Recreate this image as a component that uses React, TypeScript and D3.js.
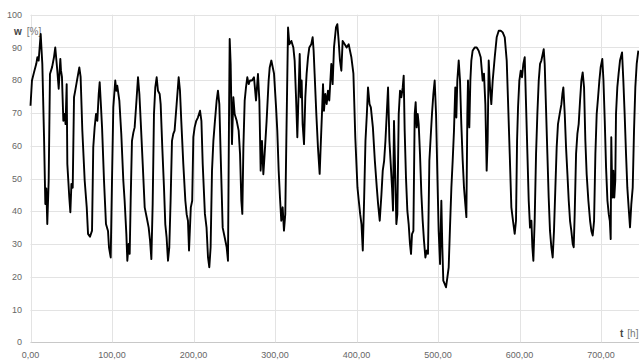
import * as d3 from "d3";

// time [h]
const hours = [
  0, 1.8, 4.3, 7.1, 8.4, 10, 12.5, 14.5, 16.6, 18.2, 19.4, 20.6, 22.3, 23.9, 26.5, 28.8, 30.4, 32.9, 34.6, 36.6,
  37.4, 38.6, 40.3, 41.9, 43, 44.4, 45.2, 46.4, 47.6, 48.9, 50.2, 51.8, 53.4, 55, 57.4, 59.9, 61.5, 63.6, 66.5, 69,
  70.6, 73, 75.5, 77, 78.7, 80.4, 82, 83.7, 84.9, 86.1, 87.8, 90.2, 92.6, 95.1, 96.3,
  98.4, 100, 101.6, 104, 105.3, 106.5, 109, 111.4, 113.9, 115.5, 117.6, 118.8, 120.4, 121.7, 122.9, 124.5, 126.2,
  127.8, 130.3, 131.9, 133.6, 135.2, 137.7, 140.1, 142.6, 145, 146.7, 148.3, 149.9, 151.5, 153.1, 154.8, 156.4,
  158.5, 159.7, 161.7, 163.8, 165.4, 167, 168.7, 170.3, 171.9, 173.6, 175.2, 176.8, 179.3, 181.8, 183.4, 185,
  187.5, 190, 191.6, 193.2,
  194.5, 196.7, 198.4, 199.8, 201.4, 203.4, 205.4, 208, 209.7, 211.3, 214, 216, 217.8, 219.4, 221, 222.7, 224.4,
  226, 228.4, 230, 231.7, 233.3, 235.8, 238.3, 240.7, 242.3, 243.6, 244.4, 245.6, 247.2, 248.9, 250.5, 253, 255.4,
  257.1, 258.7, 259.9, 261.2, 262.8, 264.4, 266, 267.7, 269.3, 271.8, 274.2, 276.7, 279.1, 280.8, 282.4, 284,
  285.7, 287.3, 289.7, 292.2, 293.5,
  295.5, 298.8, 301.3, 302.8, 304.5, 306.1, 307.7, 309.4, 311, 312.6, 313.9, 316, 317.6, 320.1, 322.5, 324.1,
  325.8, 327.4, 329, 330.3, 331.5, 332.7, 333.9, 335.6, 337.2, 338.8, 340.5, 342.1, 344.5, 346.2, 347.4, 348.6,
  350.7, 352.7, 354.8, 356, 357.6, 358.9, 360.1, 361.7, 363.4, 365, 366.6, 369.1, 370.7, 372.4, 374.8, 376.5,
  378.1, 379.7, 381.4, 383, 385.5, 387.9, 390.4,
  392, 393.7, 396.2, 398.5, 401.2, 402.8, 404.5, 406.1, 407.7, 409.4, 411, 412.7, 414.1, 416, 417.6, 420.1, 422.5,
  424.9, 426.5, 428.5, 430.6, 432.2, 433.9, 435.5, 437.1, 438.7, 440.4, 442, 443.6, 444.8, 446, 447.7, 448.9,
  450.1, 451.8, 453.4, 455, 456.7, 457.9, 459.1, 460.7, 462.4, 464, 465.6, 466.9, 468.1, 469.8, 471.4, 472.6,
  473.8, 475.1, 476.3, 477.9, 479.6, 481.2, 482.8, 484.5, 486.1, 487.7,
  489.4, 491, 492.6, 494.3, 495.9, 497.6, 499.2, 500.8, 502.5, 504.1, 505.3, 506.5, 508.2, 509.8, 511.5, 513.1,
  514.7, 516.4, 518, 519.6, 521.2, 522.5, 523.7, 525.4, 527, 528.6, 530.3, 531.9, 533.5, 534.8, 536, 536.8, 537.6,
  538.4, 539.7, 540.9, 542.5, 545, 547.5, 549.9, 552.4, 554.8, 556.4, 558.1, 559.7, 560.9, 562.2, 563.8, 565.4,
  567.1, 569.6, 572, 574.5, 577, 579.4, 581.9, 584.3, 585.9, 588,
  590, 592, 594.1, 595.7, 597, 598.2, 599.8, 601.5, 603.1, 604.7, 606.4, 608, 609.7, 611.3, 612.9, 614.6, 615.8,
  617, 618.6, 620.3, 621.9, 623.6, 625.2, 626.8, 628.5, 629.7, 630.9, 632.5, 634.2, 635.8, 637.4, 639.1, 640.7,
  642.3, 644, 645.6, 647.2, 649.3, 651.4, 652.6, 653.8, 655.5, 657.1, 658.8, 660.4, 662, 663.6, 665.3,
  666.5, 667.7, 669.4, 671, 672.6, 674.3, 675.9, 677.5, 679.2, 680.8, 682.4, 684.5, 686.6, 688.2, 689.8, 691.5,
  693.1, 694.7, 696.4, 698, 699.6, 701.6, 703, 704.6, 706.2, 707.9, 709.5, 710.8, 711.9, 712.6, 713.4, 714.3,
  715.1, 716.3, 717.5, 718.4, 720, 721.6, 723.3, 725.8, 727.4, 729, 730.7, 732.3, 733.9, 735.6, 737.2, 738.9,
  740.5, 742.1, 743.8, 745.8,
];

// relative humidity w [%]
const humidity = [
  72.2, 79.9, 82.4, 85, 87, 86, 94.1, 85, 62.7, 42.2, 47, 36.1, 49.3, 81.9, 84, 87, 90, 82.9, 77.4, 86.5,
  83, 81, 67.6, 69.7, 66.6, 78.8, 54.4, 49.3, 44.2, 39.7, 48.3, 47.2, 74.8, 77, 80.4, 83.9, 81, 64.6, 49.3, 41.2,
  33.1, 32.2, 34.1, 59.5, 65.6, 69.7, 67.6, 75.8, 79.4, 73.8, 65.6, 49.3, 36.1, 34, 29,
  25.9, 49.3, 71.7, 79.9, 76.8, 78.3, 73.8, 63.6, 49.3, 43.2, 33.1, 24.9, 30, 27, 43.2, 61.5, 64,
  65.6, 74.8, 80.9, 75.8, 67.6, 54.4, 41.2, 38.1, 35, 31, 25.4, 42.2, 69.7, 77.8, 80.9, 76.8,
  75.8, 72.7, 59.5, 47.2, 36, 32, 24.9, 29, 43.2, 61.5, 63.6, 64.6, 72.7, 80.9, 76.8, 67.6,
  54.4, 43.2, 39.1, 37.1,
  28, 41.2, 43.2, 62.6, 65.6, 67.6, 68.6, 70.7, 67.6, 54.4, 39.2, 35, 25.9, 22.9, 29, 52.4, 61.5,
  66.6, 73.8, 76.8, 72.7, 57.5, 35, 32, 29, 24.9, 69.7, 92.6, 85, 60.5, 74.8, 69.7, 67.6, 64.6,
  57.5, 43.2, 39.2, 59.5, 73.8, 77.8, 80.9, 78.8, 79.9, 79.9, 80.9, 73.8, 81.9, 73.8, 52.4, 61.5,
  51.3, 57.5, 67.6, 79.9, 83.9,
  86, 82, 71.7, 64.6, 52.4, 44.2, 37.1, 41.2, 34.1, 39.1, 61.5, 96.1, 91, 92, 90, 86,
  74.8, 62.6, 76.8, 88, 74.8, 79.9, 66.6, 60.5, 74.8, 82, 87, 90, 91, 93.1, 89, 82,
  69.7, 59.5, 51.4, 59.5, 69.7, 78.8, 70.7, 75.8, 72.7, 76.8, 73.8, 85, 78.8, 90, 96.1, 97.1,
  92, 86, 82.9, 92, 91, 90, 91,
  89, 87, 82, 62.6, 47.2, 43.2, 39.1, 36.1, 28, 44.2, 61.5, 69.7, 77.8, 72.7, 71.7, 65.6, 55.4,
  47.2, 42.2, 37.1, 45.2, 52.4, 55.4, 61.5, 69.7, 77.8, 61.5, 54.4, 47.2, 40.2, 67.6, 49.3, 36.1,
  39.1, 69.7, 76.8, 74.8, 77.8, 81.4, 64.6, 50.3, 40.1, 36.1, 30, 27, 33, 34, 69.7, 73.3,
  65.6, 69.7, 66.6, 57.5, 45.2, 37.1, 31, 25.9, 28, 27,
  55.4, 62.6, 69.7, 75.8, 79.9, 69.7, 51.3, 34, 23.9, 43.2, 29, 18.8, 17.8, 16.8, 19.8, 22.9,
  35, 47.2, 55.4, 64.6, 77.8, 68.6, 79.9, 86, 79.9, 66.6, 55.4, 47.2, 42.2, 38.2, 69.7, 79.9, 69.7,
  65.6, 79.9, 86, 89, 90, 90, 89, 87, 79.9, 82, 72.7, 52.4, 61.5, 86, 77.8, 72.7,
  79.9, 87, 93.1, 95.1, 95.1, 94.6, 93.1, 86, 73.8, 57.5,
  41.2, 37.1, 33.1, 37.1, 61.5, 71.7, 79.9, 82.9, 80.9, 85, 87, 72.7, 57.5, 43.2, 35, 37.1, 29,
  24.9, 37.1, 57.5, 69.7, 79.9, 85, 86, 88, 89.5, 85, 71.7, 57.5, 44.2, 34, 29, 25.9,
  34, 47.2, 59.5, 66.6, 69.7, 72.7, 75.8, 77.8, 69.7, 59.5, 51.3, 43.2, 37.1, 34, 30,
  29, 39.1, 57.5, 63.6, 66.6, 73.8, 79.9, 82.4, 77.8, 61.5, 51.3, 43.2, 37.1, 34, 32.6, 37.1,
  57.5, 69.7, 74.8, 79.9, 84, 86.5, 79.9, 67.6, 53.4, 43.2, 39.1, 37.1, 31.5, 62.6, 51.3, 44.2,
  52.4, 44.2, 49.3, 69.7, 77.8, 82, 86, 88.5, 79.9, 69.7, 57.5, 47.2, 41.2, 35.1, 42.2, 47.2,
  64.6, 77.8, 85, 89,
];

const xTicks = [0, 100, 200, 300, 400, 500, 600, 700];
const xTickLabels = ["0,00", "100,00", "200,00", "300,00", "400,00", "500,00", "600,00", "700,00"];
const yTicks = [0, 10, 20, 30, 40, 50, 60, 70, 80, 90, 100];

export default function App() {
  const width = 639;
  const height = 360;
  const margin = { top: 14.7, right: 0.5, bottom: 17.7, left: 30.5 };

  const x = d3.scaleLinear().domain([0, 746]).range([margin.left, width - margin.right]);
  const y = d3.scaleLinear().domain([0, 100]).range([height - margin.bottom, margin.top]);

  const line = d3
    .line<number>()
    .x((_, i) => x(hours[i]))
    .y((d) => y(d));

  const font = "'Liberation Sans', Arial, sans-serif";

  return (
    <svg
      width={width}
      height={height}
      style={{ position: "absolute", left: 0, top: 0, background: "#fff" }}
      fontFamily={font}
    >
      {yTicks.map((t) => (
        <line
          key={"gy" + t}
          x1={margin.left}
          x2={width}
          y1={Math.round(y(t)) + 0.5}
          y2={Math.round(y(t)) + 0.5}
          stroke={t === 0 ? "#c8c8c8" : "#e3e3e3"}
          strokeWidth={1}
        />
      ))}
      {xTicks.map((t) => (
        <line
          key={"gx" + t}
          x1={Math.round(x(t)) + 0.5}
          x2={Math.round(x(t)) + 0.5}
          y1={margin.top}
          y2={y(0)}
          stroke="#e3e3e3"
          strokeWidth={1}
        />
      ))}
      {yTicks.map((t) => (
        <text key={"ly" + t} x={22} y={y(t)} dy="0.35em" textAnchor="end" fontSize={9} fill="#666">
          {t}
        </text>
      ))}
      {xTicks.map((t, i) => (
        <text key={"lx" + t} x={x(t)} y={357.5} textAnchor="middle" fontSize={9} fill="#666">
          {xTickLabels[i]}
        </text>
      ))}
      <text x={14} y={35} fontSize={10} fill="#444">
        <tspan fontWeight="bold">w</tspan>
        <tspan dx={5} fill="#777">[%]</tspan>
      </text>
      <text x={620} y={337} fontSize={10} fill="#444">
        <tspan fontWeight="bold">t</tspan>
        <tspan dx={4} fill="#777">[h]</tspan>
      </text>
      <path
        d={line(humidity) ?? ""}
        fill="none"
        stroke="#000"
        strokeWidth={1.9}
        strokeLinejoin="round"
      />
    </svg>
  );
}
